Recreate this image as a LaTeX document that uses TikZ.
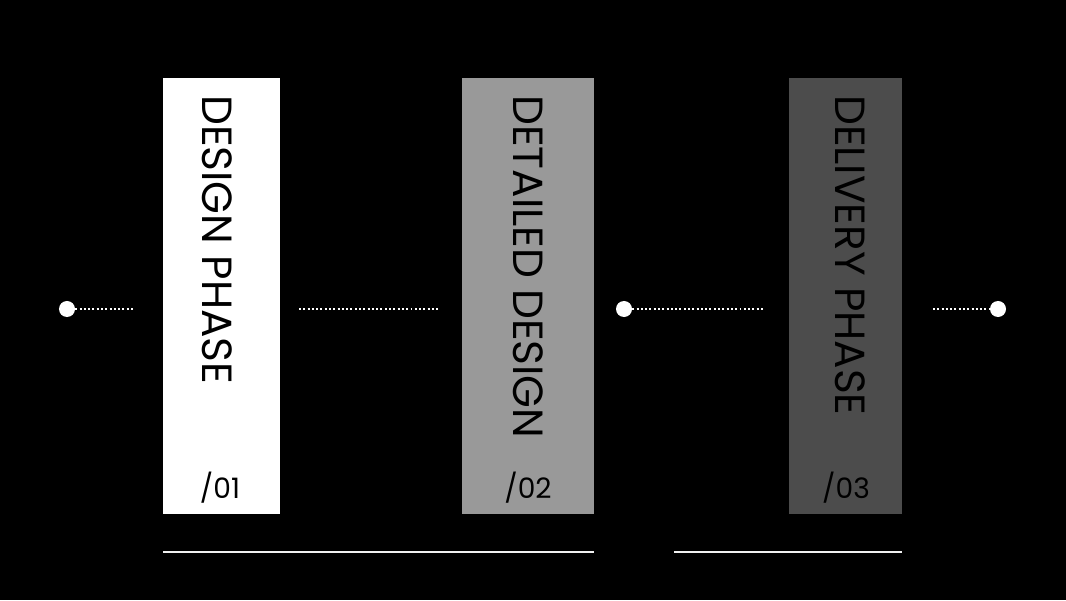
\documentclass[tikz,border=0pt]{standalone}
\usepackage{fontspec}
\setmainfont{Poppins}[Numbers=Lining]
\usepackage{tikz}
\usetikzlibrary{calc}

\begin{document}
\begin{tikzpicture}[x=0.025cm, y=0.025cm,
        phasebox/.style={anchor=north west, inner sep=0pt, minimum height=10.9cm},
        phasetitle/.style={rotate=-90, anchor=west, inner sep=0pt, font=\fontsize{30}{30}\selectfont},
        phasenum/.style={inner sep=0pt, font=\fontsize{20}{20}\selectfont},
        stop/.style={circle, fill=white, inner sep=0pt, minimum size=0.4cm},
        dots/.style={white, line width=1.4pt, dash pattern=on 1.4pt off 1.65pt},
        rule/.style={white!88!gray, line width=1pt}]
                \fill[black] (0,0) rectangle (1066,600);
                \useasboundingbox (0,0) rectangle (1066,600);
                \node[phasebox, fill=white, minimum width=2.925cm] (B1) at (163,522) {};
                \node[phasebox, fill=black!40, minimum width=3.3cm] (B2) at (462,522) {};
                \node[phasebox, fill=black!70, minimum width=2.825cm] (B3) at (789,522) {};
                \node[phasetitle] (T1) at (217,505) {DESIGN PHASE};
                \node[phasetitle] (T2) at (528,505) {DETAILED DESIGN};
                \node[phasetitle] (T3) at (850,505) {DELIVERY PHASE};
                \node[phasenum] (N1) at (220,112) {/01};
                \node[phasenum] (N2) at (528,112) {/02};
                \node[phasenum] (N3) at (846,112) {/03};
                \node[stop] (S1) at (67,291) {};
                \node[stop] (S2) at (624,291) {};
                \node[stop] (S3) at (998,291) {};
                \coordinate (A) at (134,291);
                \coordinate (C1) at (299,291);
                \coordinate (C2) at (439,291);
                \coordinate (D) at (764,291);
                \coordinate (E) at (933,291);
                \draw[dots] (S1) -- (A) (C1) -- (C2) (S2) -- (D) (E) -- (S3);
                \coordinate (L1) at (163,48);
                \coordinate (L2) at (594,48);
                \coordinate (L3) at (674,48);
                \coordinate (L4) at (902,48);
                \draw[rule] (L1) -- (L2) (L3) -- (L4);
            \end{tikzpicture}
\end{document}
